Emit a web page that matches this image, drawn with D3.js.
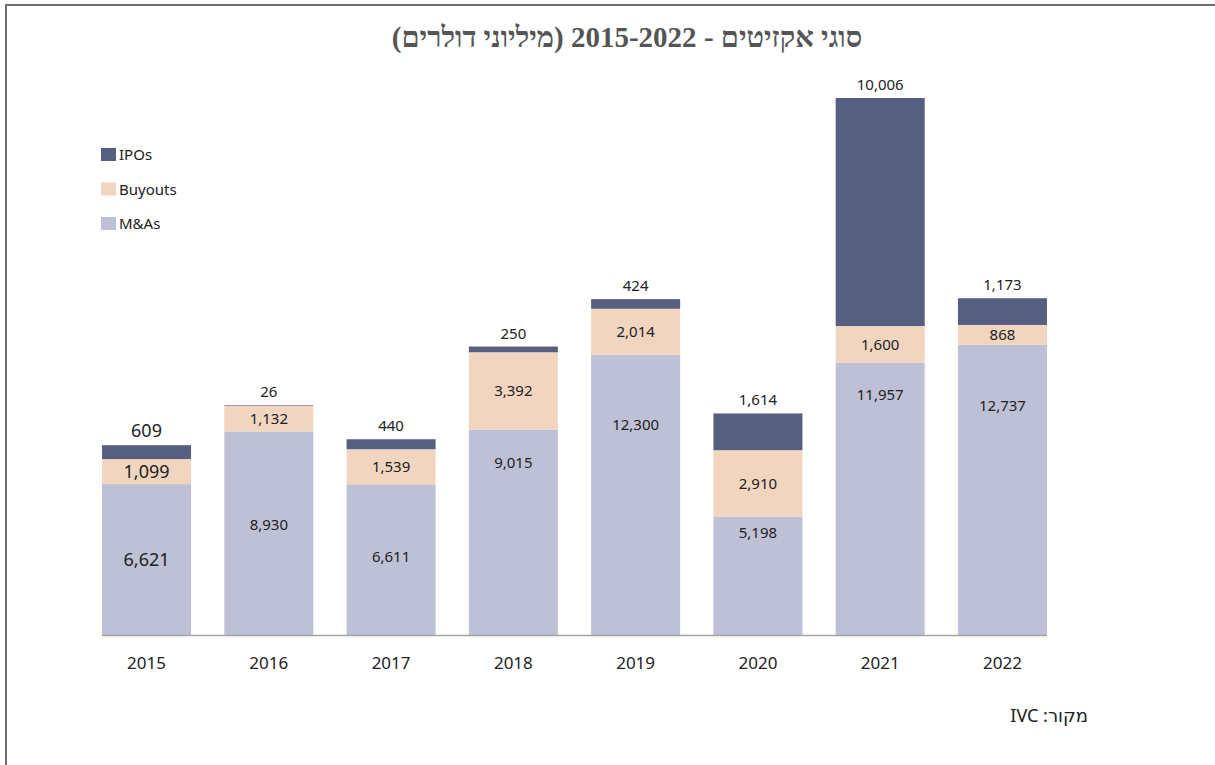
<!DOCTYPE html>
<html>
<head>
<meta charset="utf-8">
<script src="https://cdn.jsdelivr.net/npm/d3@7"></script>
<style>
	body { margin: 0; background: #fff; }
	svg { display: block; }
</style>
</head>
<body>
<svg id="chart" width="1215" height="765"></svg>
<script>

let years = ["2015","2016","2017","2018","2019","2020","2021","2022"];
let mas = [6621, 8930, 6611, 9015, 12300, 5198, 11957, 12737];
let buyouts = [1099, 1132, 1539, 3392, 2014, 2910, 1600, 868];
let ipos = [609, 26, 440, 250, 424, 1614, 10006, 1173];
let seriesNames = ["M&As", "Buyouts", "IPOs"];
let legendOrder = ["IPOs", "Buyouts", "M&As"];

// where the M&A label sits inside its segment (fraction of the segment from its top)
let masLabelAt = [0.5, 0.46, 0.48, 0.16, 0.25, 0.14, 0.12, 0.21];

let colors = { "M&As": "#bec1d5", "Buyouts": "#f1d5bf", "IPOs": "#575f80" };

let svg = d3.select("#chart");
let font = "'Noto Sans', 'DejaVu Sans', sans-serif";

// frame (top and left edges only)
svg.append("line").attr("x1", 5).attr("x2", 1215).attr("y1", 5).attr("y2", 5)
	.attr("stroke", "#6e6e6e").attr("stroke-width", 2);
svg.append("line").attr("x1", 6).attr("x2", 6).attr("y1", 4).attr("y2", 765)
	.attr("stroke", "#6e6e6e").attr("stroke-width", 2);

// title
svg.append("text")
	.attr("x", 627).attr("y", 47)
	.attr("direction", "rtl")
	.attr("text-anchor", "middle")
	.style("font-family", "'Liberation Serif', 'DejaVu Serif', serif")
	.style("font-weight", "bold")
	.style("font-size", "29px")
	.attr("fill", "#555")
	.text("סוגי אקזיטים - 2015-2022 (מיליוני דולרים)");

let data = years.map(function (y, i) {
	return { "year": y, "M&As": mas[i], "Buyouts": buyouts[i], "IPOs": ipos[i], "idx": i };
});

let stacked = d3.stack().keys(seriesNames)(data);

let baseY = 635;
let x = d3.scaleBand().domain(years).range([85.4, 1063.6]).paddingInner(0.272).paddingOuter(0.136);
let y = d3.scaleLinear().domain([0, 23563]).range([baseY, 98]);

let g = svg.append("g");

stacked.forEach(function (layer) {
	g.selectAll(".bar-" + layer.key.replace(/\W/g, ""))
		.data(layer)
		.enter()
		.append("rect")
		.attr("x", function (d) { return x(d.data.year); })
		.attr("width", x.bandwidth())
		.attr("y", function (d) { return y(d[1]); })
		.attr("height", function (d) { return y(d[0]) - y(d[1]); })
		.attr("fill", colors[layer.key]);
});

// baseline
svg.append("line")
	.attr("x1", x(years[0])).attr("x2", x(years[years.length - 1]) + x.bandwidth())
	.attr("y1", baseY + 0.5).attr("y2", baseY + 0.5)
	.attr("stroke", "#a5a5a5").attr("stroke-width", 1.5);

function labelSize(d) { return d.data.year == "2015" ? 18 : 15; }

// labels inside segments for M&As and Buyouts, above bar for IPOs
stacked.forEach(function (layer) {
	g.selectAll(".lbl-" + layer.key.replace(/\W/g, ""))
		.data(layer)
		.enter()
		.append("text")
		.attr("x", function (d) { return x(d.data.year) + x.bandwidth() / 2; })
		.attr("y", function (d) {
			if (layer.key == "IPOs") return y(d[1]) - 8;
			if (layer.key == "M&As") {
				let f = masLabelAt[d.data.idx];
				return y(d[1]) + f * (y(d[0]) - y(d[1]));
			}
			return (y(d[0]) + y(d[1])) / 2;
		})
		.attr("dy", layer.key == "IPOs" ? 0 : "0.35em")
		.attr("text-anchor", "middle")
		.style("font-family", font)
		.style("font-size", function (d) { return labelSize(d) + "px"; })
		.attr("fill", "#222")
		.text(function (d) { return d3.format(",")(d.data[layer.key]); });
});

// x axis labels
g.selectAll(".xlab")
	.data(years)
	.enter()
	.append("text")
	.attr("x", function (d) { return x(d) + x.bandwidth() / 2; })
	.attr("y", 669)
	.attr("text-anchor", "middle")
	.style("font-family", font)
	.style("font-size", "17px")
	.attr("fill", "#222")
	.text(function (d) { return d; });

// legend
let legend = svg.append("g").attr("transform", "translate(101,148)");
legendOrder.forEach(function (k, i) {
	legend.append("rect")
		.attr("x", 0).attr("y", i * 34.5)
		.attr("width", 15).attr("height", 13)
		.attr("fill", colors[k]);
	legend.append("text")
		.attr("x", 18).attr("y", i * 34.5 + 12)
		.style("font-family", font)
		.style("font-size", "15px")
		.attr("fill", "#222")
		.text(k);
});

// source
svg.append("text")
	.attr("x", 1088).attr("y", 722)
	.attr("direction", "rtl")
	.attr("text-anchor", "start")
	.style("font-family", font)
	.style("font-size", "18px")
	.attr("fill", "#222")
	.text("מקור: IVC");

</script>
</body>
</html>
